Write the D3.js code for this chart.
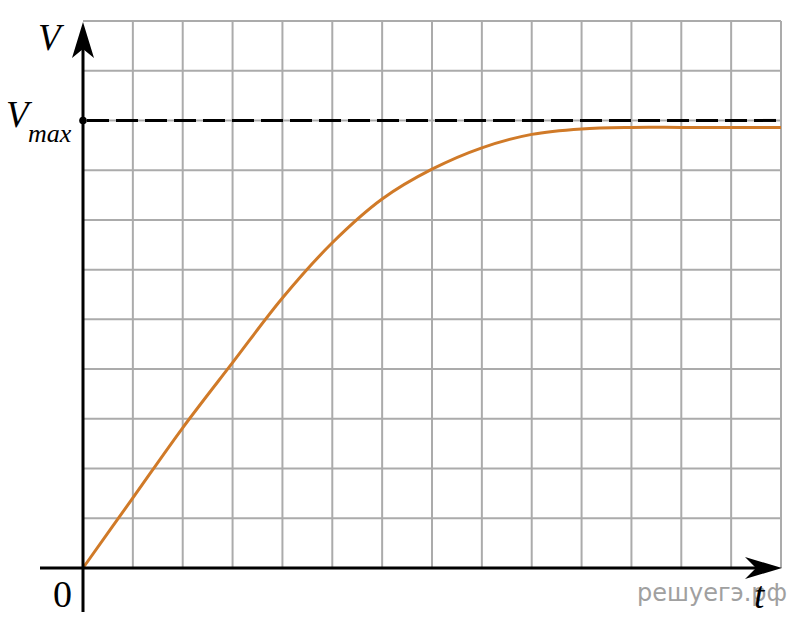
<!DOCTYPE html>
<html>
<head>
<meta charset="utf-8">
<script src="https://cdn.jsdelivr.net/npm/d3@7"></script>
<style>
html,body{margin:0;padding:0;background:#fff;}
svg{display:block;}
</style>
</head>
<body>
<svg id="chart" width="807" height="621"></svg>
<script>
// Data (grid units)
const tValues = [0, 1, 2, 3, 4, 5, 6, 7, 8, 9, 10, 11, 12, 13, 14];
const vValues = [0, 1.41, 2.82, 4.13, 5.43, 6.54, 7.42, 8.02, 8.45, 8.72, 8.83, 8.86, 8.86, 8.86, 8.86];
const vMax = 9;
const xGridTicks = d3.range(0, 15);
const yGridTicks = d3.range(0, 12);
const labels = {v: "V", vmax: "V", vmaxSub: "max", zero: "0", t: "t", watermark: "решуегэ.рф"};

const svg = d3.select("#chart");
const x = d3.scaleLinear().domain([0, 14]).range([83, 781]);
const y = d3.scaleLinear().domain([0, 11]).range([568, 21]);

// grid
const grid = svg.append("g").attr("stroke", "#ababab").attr("stroke-width", 2);
grid.selectAll("line.v").data(xGridTicks.slice(1)).join("line")
  .attr("x1", d => x(d)).attr("x2", d => x(d))
  .attr("y1", y(0)).attr("y2", y(11));
grid.selectAll("line.h").data(yGridTicks.slice(1)).join("line")
  .attr("x1", x(0)).attr("x2", x(14))
  .attr("y1", d => y(d)).attr("y2", d => y(d));

// Vmax dashed line
svg.append("line")
  .attr("x1", x(0)).attr("x2", x(14))
  .attr("y1", y(vMax)).attr("y2", y(vMax))
  .attr("stroke", "#000").attr("stroke-width", 3)
  .attr("stroke-dasharray", "22,7").attr("stroke-dashoffset", -4);
svg.append("circle").attr("cx", x(0)).attr("cy", y(vMax)).attr("r", 3.8).attr("fill", "#000");

// curve
const line = d3.line()
  .x((d, i) => x(tValues[i]))
  .y(d => y(d))
  .curve(d3.curveCatmullRom.alpha(0.5));
svg.append("path").datum(vValues)
  .attr("d", line)
  .attr("fill", "none")
  .attr("stroke", "#d07a28")
  .attr("stroke-width", 3);

// axes
const ax = svg.append("g").attr("stroke", "#000").attr("stroke-width", 3);
ax.append("line").attr("x1", x(0)).attr("x2", x(0)).attr("y1", 612).attr("y2", 40);
ax.append("line").attr("x1", 40).attr("x2", 765).attr("y1", y(0)).attr("y2", y(0));
// arrowheads
const ox = x(0), oy = y(0);
svg.append("path")
  .attr("d", `M${ox},22 L${ox+11},58 L${ox},49 L${ox-11},58 Z`)
  .attr("fill", "#000");
svg.append("path")
  .attr("d", `M782,${oy} L745,${oy-11} L756,${oy} L745,${oy+11} Z`)
  .attr("fill", "#000");

// labels
const serif = "'Liberation Serif', 'Times New Roman', serif";
svg.append("text").attr("x", 38).attr("y", 50)
  .attr("font-family", serif).attr("font-style", "italic").attr("font-size", 37)
  .text(labels.v);
const vm = svg.append("text").attr("x", 6).attr("y", 127)
  .attr("font-family", serif).attr("font-style", "italic").attr("font-size", 37);
vm.append("tspan").text(labels.vmax);
vm.append("tspan").attr("x", 28).attr("y", 142).attr("font-size", 26).text(labels.vmaxSub);
svg.append("text").attr("x", 62.5).attr("y", 607).attr("text-anchor", "middle")
  .attr("font-family", serif).attr("font-size", 38).text(labels.zero);
svg.append("text").attr("x", 637).attr("y", 601)
  .attr("font-family", "'DejaVu Sans', sans-serif").attr("font-size", 24)
  .attr("fill", "#a0a0a0").text(labels.watermark);
svg.append("text").attr("x", 754).attr("y", 608)
  .attr("font-family", serif).attr("font-style", "italic").attr("font-size", 37)
  .text(labels.t);
</script>
</body>
</html>
